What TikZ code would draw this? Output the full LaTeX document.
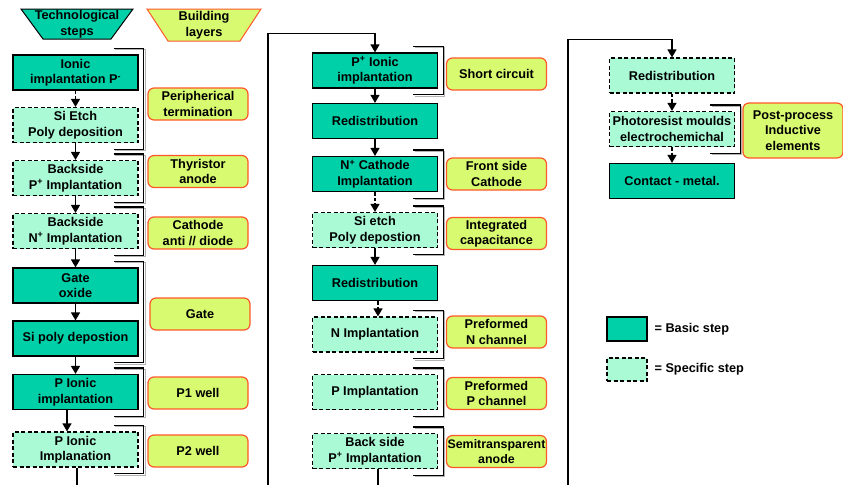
\documentclass[tikz,border=0pt]{standalone}
\usepackage{fontspec}
\setmainfont{Liberation Sans}
\usetikzlibrary{positioning, arrows.meta, calc}

\definecolor{basicfill}{RGB}{0,208,168}
\definecolor{specfill}{RGB}{170,250,214}
\definecolor{layerfill}{RGB}{216,250,112}
\definecolor{layerline}{RGB}{255,88,40}

% bracket joining the steps of one layer (top node, bottom node)
\newcommand{\layerbracket}[2]{%
  \draw[-, gray!60, line width=1pt] ($(#1.north east)+(-23.5,-4.5)$) -| ($(#2.south east)+(6.5,7.5)$) -- ++(-30,0);
  \draw[-, line width=1.2pt] ($(#1.north east)+(-25,-6)$) -| ($(#2.south east)+(5,6)$) -- ++(-30,0);
}

\begin{document}
\begin{tikzpicture}[
    x=1pt, y=-1pt,
    ->, >={Triangle[length=8pt,width=9pt]}, line width=1.3pt,
    every node/.style={font=\fontsize{12.7}{15.5}\selectfont\bfseries, align=center},
    basic/.style={draw, line width=1.2pt, fill=basicfill, minimum width=125pt, minimum height=35pt, inner sep=1pt},
    specific/.style={basic, fill=specfill, dash pattern=on 4pt off 2.5pt, preaction={draw=white, solid, line width=1.2pt}},
    layer/.style={draw=layerline, line width=1.2pt, fill=layerfill, rounded corners=6pt, minimum width=100pt, minimum height=32pt, inner sep=1pt},
    dashflow/.style={dash pattern=on 3.5pt off 2pt}
]
    \useasboundingbox (0,0) rectangle (843,485);

    % Headers
    \draw[-, line width=1pt, fill=basicfill] (21,9) -- (133,9) -- (111,39) -- (43,39) -- cycle;
    \node (STEPS) at (77,24) {Technological\\steps};
    \draw[-, line width=1pt, draw=layerline, fill=layerfill] (147,9) -- (261,9) -- (240,41) -- (168,41) -- cycle;
    \node (LAYERS) at (204,25) {Building\\layers};

    % First column
    \node[basic] (IONP) at (75.5,72.5) {Ionic\\implantation P\textsuperscript{-}};
    \node[specific, below of=IONP, node distance=52.5pt] (ETCH) {Si Etch\\Poly deposition};
    \node[specific, below of=ETCH, node distance=53pt] (BACKP) {Backside\\P\textsuperscript{+} Implantation};
    \node[specific, below of=BACKP, node distance=53pt] (BACKN) {Backside\\N\textsuperscript{+} Implantation};
    \node[basic, below of=BACKN, node distance=54.5pt] (OXIDE) {Gate\\oxide};
    \node[basic, below of=OXIDE, node distance=53pt] (POLY) {Si poly depostion};
    \node[basic, below of=POLY, node distance=53.5pt] (PION) {P Ionic\\implantation};
    \node[specific, below of=PION, node distance=57.5pt] (PION2) {P Ionic\\Implanation};

    \node[layer] (PERIPH) at (198,104) {Peripherical\\termination};
    \node[layer] (THYR) at (198,171.5) {Thyristor\\anode};
    \node[layer] (ANTID) at (198,233) {Cathode\\anti // diode};
    \node[layer] (GATE) at (200,314) {Gate};
    \node[layer] (PWELL1) at (198,393) {P1 well};
    \node[layer] (PWELL2) at (198,451) {P2 well};

    % Second column
    \node[basic] (PPLUS) at (375,70.5) {P\textsuperscript{+} Ionic\\implantation};
    \node[basic, below of=PPLUS, node distance=50.5pt] (REDIS) {Redistribution};
    \node[basic, below of=REDIS, node distance=53pt] (NCATH) {N\textsuperscript{+} Cathode\\Implantation};
    \node[specific, below of=NCATH, node distance=56pt] (ETCH2) {Si etch\\Poly depostion};
    \node[basic, below of=ETCH2, node distance=53pt] (REDIS2) {Redistribution};
    \node[specific, below of=REDIS2, node distance=51.5pt] (NIMP) {N Implantation};
    \node[specific, below of=NIMP, node distance=57.5pt] (PIMP) {P Implantation};
    \node[specific, below of=PIMP, node distance=59pt] (BACKP2) {Back side\\P\textsuperscript{+} Implantation};

    \node[layer] (SHORT) at (496.5,74) {Short circuit};
    \node[layer] (FRONT) at (496.5,174) {Front side\\Cathode};
    \node[layer] (CAPA) at (496.5,233.5) {Integrated\\capacitance};
    \node[layer] (NCHAN) at (496.5,332) {Preformed\\N channel};
    \node[layer] (PCHAN) at (496.5,393.5) {Preformed\\P channel};
    \node[layer, font=\fontsize{12.4}{15.5}\selectfont\bfseries] (SEMI) at (496.5,451.5) {Semitransparent\\anode};

    % Third column
    \node[specific] (REDIS3) at (672,75.5) {Redistribution};
    \node[specific, below of=REDIS3, node distance=53.5pt] (MOULD) {Photoresist moulds\\electrochemichal};
    \node[basic, below of=MOULD, node distance=52pt] (METAL) {Contact - metal.};

    \node[layer, minimum height=55pt] (INDUCT) at (793,130.5) {Post-process\\Inductive\\elements};

    % Legend
    \node[basic, minimum width=40pt, minimum height=24pt] (KEYBASIC) at (627,329) {};
    \node[right=3pt of KEYBASIC] (TXTBASIC) {= Basic step};
    \node[specific, minimum width=40pt, minimum height=23pt] (KEYSPEC) at (627,369.5) {};
    \node[right=3pt of KEYSPEC] (TXTSPEC) {= Specific step};

    % Brackets
    \layerbracket{IONP}{ETCH}
    \layerbracket{BACKP}{BACKP}
    \layerbracket{BACKN}{BACKN}
    \layerbracket{OXIDE}{POLY}
    \layerbracket{PION}{PION}
    \layerbracket{PION2}{PION2}
    \layerbracket{PPLUS}{PPLUS}
    \layerbracket{NCATH}{NCATH}
    \layerbracket{ETCH2}{ETCH2}
    \layerbracket{NIMP}{NIMP}
    \layerbracket{PIMP}{PIMP}
    \layerbracket{BACKP2}{BACKP2}
    \layerbracket{MOULD}{MOULD}

    % Edges
    % First column
    \path (IONP) edge[dashflow] (ETCH)
          (ETCH) edge (BACKP)
          (BACKP) edge (BACKN)
          (BACKN) edge (OXIDE)
          (OXIDE) edge (POLY)
          (POLY) edge (PION)
          ([xshift=-8.5pt]PION.south) edge ([xshift=-8.5pt]PION2.north);

    % Second column
    \path (PPLUS) edge (REDIS)
          (REDIS) edge (NCATH)
          (NCATH) edge[dashflow] (ETCH2)
          (ETCH2) edge (REDIS2)
          ([xshift=3pt]REDIS2.south) edge[dashflow] ([xshift=3pt]NIMP.north);

    % Third column
    \path (REDIS3) edge[dashflow] (MOULD)
          (MOULD) edge[dashflow] (METAL);

    % Links between columns
    \coordinate (FOOT1) at (77,485);
    \coordinate (FOOT2) at (268,485);
    \coordinate (FOOT3) at (568,485);
    \draw[-] ([xshift=1.5pt]PION2.south) -- ([xshift=1.5pt]PION2.south |- FOOT1);
    \draw (FOOT2) |- ([yshift=19pt]PPLUS.north) -- (PPLUS.north);
    \draw[-] ([xshift=3pt]BACKP2.south) -- ([xshift=3pt]BACKP2.south |- FOOT2);
    \draw (FOOT3) |- ([yshift=18pt]REDIS3.north) -- (REDIS3.north);

\end{tikzpicture}
\end{document}
